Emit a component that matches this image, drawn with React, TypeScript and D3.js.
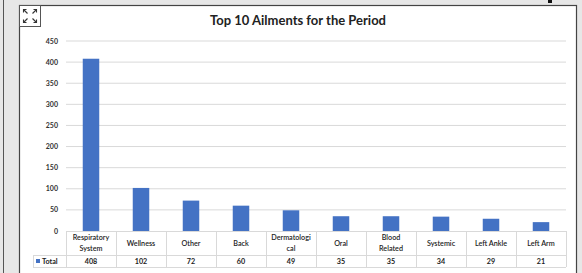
import React from 'react';
import * as d3 from 'd3';

const categories = ['Respiratory System', 'Wellness', 'Other', 'Back', 'Dermatological', 'Oral', 'Blood Related', 'Systemic', 'Left Ankle', 'Left Arm'];
const categoryLines = [['Respiratory', 'System'], ['Wellness'], ['Other'], ['Back'], ['Dermatologi', 'cal'], ['Oral'], ['Blood', 'Related'], ['Systemic'], ['Left Ankle'], ['Left Arm']];
const totals = [408, 102, 72, 60, 49, 35, 35, 34, 29, 21];
const yTicks = [0, 50, 100, 150, 200, 250, 300, 350, 400, 450];
const seriesName = 'Total';

const W = 582;
const H = 273;
const BLUE = '#4472c4';
const GRID = '#d9d9d9';
const FONT = 'Lato, "Liberation Sans", sans-serif';

const App = () => {
  const plotLeft = 66;
  const plotRight = 566;
  const yTop = 41;
  const yBottom = 231;
  const rowH1 = 24;
  const rowH2 = 12;
  const legendLeft = 33;

  const x = d3.scaleBand().domain(categories).range([plotLeft, plotRight]).paddingInner(0.67).paddingOuter(0.335);
  const col = d3.scaleBand().domain(categories).range([plotLeft, plotRight]);
  const y = d3.scaleLinear().domain([0, 450]).range([yBottom, yTop]);

  const tableBottom = yBottom + rowH1 + rowH2;

  return (
    <div style={{ position: 'fixed', left: 0, top: 0, width: W, height: H }}>
      <svg width={W} height={H} style={{ display: 'block', fontFamily: FONT }}>
        <rect x={0} y={0} width={W} height={H} fill="#e7e7e7" />
        <line x1={3.5} y1={0} x2={3.5} y2={H} stroke="#555" strokeWidth={1} />
        <rect x={19.5} y={5.5} width={557} height={H} fill="#fff" stroke="#444" strokeWidth={1.2} />
        <rect x={548} y={0} width={4} height={3} fill="#111" />

        {/* expand icon */}
        <g transform="translate(19.5,5.5)">
          <rect x={0} y={0} width={21} height={21} fill="#fff" stroke="#555" strokeWidth={1} />
          {[[4, 4, 1, 1], [17, 4, -1, 1], [4, 17, 1, -1], [17, 17, -1, -1]].map(([cx, cy, dx, dy], i) => (
            <g key={i} stroke="#333" strokeWidth={1.1} fill="none">
              <line x1={cx} y1={cy} x2={cx + dx * 4} y2={cy + dy * 4} />
              <polyline points={`${cx},${cy + dy * 3} ${cx},${cy} ${cx + dx * 3},${cy}`} />
            </g>
          ))}
        </g>

        <text x={298} y={25} textAnchor="middle" fontSize={13} fontWeight="bold" fill="#222">
          Top 10 Ailments for the Period
        </text>

        {yTicks.map(t => (
          <g key={t}>
            {t > 0 && <line x1={plotLeft} x2={plotRight} y1={y(t)} y2={y(t)} stroke={GRID} strokeWidth={1} />}
            <text x={58} y={y(t) + 2.5} textAnchor="end" fontSize={7} fontWeight="bold" fill="#333">{t}</text>
          </g>
        ))}

        {categories.map((c, i) => (
          <rect key={c} x={x(c)} y={y(totals[i])} width={x.bandwidth()} height={yBottom - y(totals[i])} fill={BLUE} />
        ))}

        {/* data table */}
        <g stroke={GRID} strokeWidth={1} fill="none">
          <line x1={plotLeft} x2={plotRight} y1={yBottom + 0.5} y2={yBottom + 0.5} />
          <line x1={legendLeft} x2={plotRight} y1={yBottom + rowH1 + 0.5} y2={yBottom + rowH1 + 0.5} />
          <line x1={legendLeft} x2={plotRight} y1={tableBottom + 0.5} y2={tableBottom + 0.5} />
          <line x1={legendLeft + 0.5} x2={legendLeft + 0.5} y1={yBottom + rowH1} y2={tableBottom} />
          {categories.map(c => (
            <line key={c} x1={(col(c) as number) + 0.5} x2={(col(c) as number) + 0.5} y1={yBottom} y2={tableBottom} />
          ))}
          <line x1={plotRight + 0.5} x2={plotRight + 0.5} y1={yBottom} y2={tableBottom} />
        </g>

        {categories.map((c, i) => {
          const cx = (col(c) as number) + col.bandwidth() / 2;
          const lines = categoryLines[i];
          const midY = yBottom + rowH1 / 2;
          return (
            <g key={c}>
              {lines.map((l, j) => (
                <text key={j} x={cx} y={midY + 2.5 + (j - (lines.length - 1) / 2) * 10.5} textAnchor="middle" fontSize={7.2} fill="#222" fontWeight={600}>{l}</text>
              ))}
              <text x={cx} y={yBottom + rowH1 + rowH2 / 2 + 2.5} textAnchor="middle" fontSize={7.2} fontWeight="bold" fill="#222">{totals[i]}</text>
            </g>
          );
        })}

        <rect x={legendLeft + 3} y={yBottom + rowH1 + 4} width={4} height={4} fill={BLUE} />
        <text x={legendLeft + 9} y={yBottom + rowH1 + rowH2 / 2 + 2.5} fontSize={7.2} fontWeight="bold" fill="#222">{seriesName}</text>
      </svg>
    </div>
  );
};

export default App;
